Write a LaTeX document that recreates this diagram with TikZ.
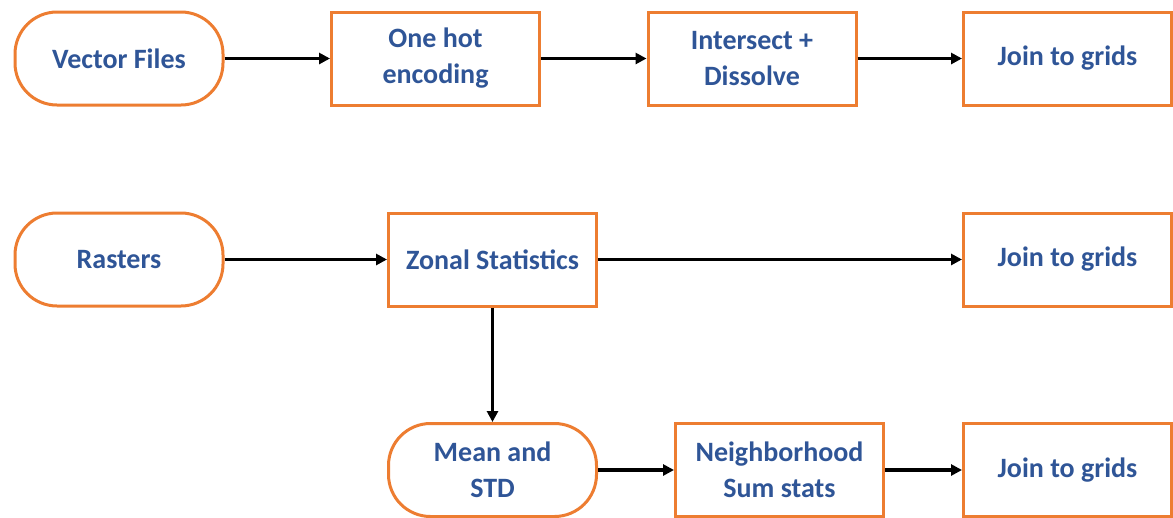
\documentclass[tikz,border=0pt]{standalone}
\usepackage{fontspec}
\setmainfont{Carlito}
\usetikzlibrary{arrows.meta}

\definecolor{boxorange}{RGB}{237,125,49}
\definecolor{textblue}{RGB}{47,85,151}

\begin{document}
\begin{tikzpicture}[x=1pt,y=-1pt,
 every node/.style = {draw=boxorange, line width=3pt, fill=white, align=center,
   minimum width=208pt, minimum height=93pt, text=textblue,
   font=\fontsize{28}{36}\selectfont\bfseries},
 stepbox/.style = {rectangle},
 endbox/.style = {rectangle, rounded corners=42pt},
 flow/.style = {line width=3.5pt, -{Triangle[length=11pt,width=11pt]}}]
 \useasboundingbox (0,0) rectangle (1173,517);
 % vector branch
 \node [endbox]  (vector)    at (119,58.5)   {Vector Files};
 \node [stepbox] (onehot)    at (435.5,58.5) {One hot\\encoding};
 \node [stepbox] (intersect) at (752,58.5)   {Intersect +\\Dissolve};
 \node [stepbox] (joinA)     at (1067.5,58.5) {Join to grids};
 % raster branch
 \node [endbox]  (rasters)   at (119,259.5)  {Rasters};
 \node [stepbox] (zonal)     at (492.5,259.5) {Zonal Statistics};
 \node [stepbox] (joinB)     at (1067.5,259.5) {Join to grids};
 \node [endbox]  (meanstd)   at (492.5,470)  {Mean and\\STD};
 \node [stepbox] (neigh)     at (779.5,470)  {Neighborhood\\Sum stats};
 \node [stepbox] (joinC)     at (1067.5,470) {Join to grids};

 \draw [flow] (vector) -- (onehot);
 \draw [flow] (onehot) -- (intersect);
 \draw [flow] (intersect) -- (joinA);
 \draw [flow] (rasters) -- (zonal);
 \draw [flow] (zonal) -- (joinB);
 \draw [flow] (zonal) -- (meanstd);
 \draw [flow] (meanstd) -- (neigh);
 \draw [flow] (neigh) -- (joinC);
\end{tikzpicture}
\end{document}
